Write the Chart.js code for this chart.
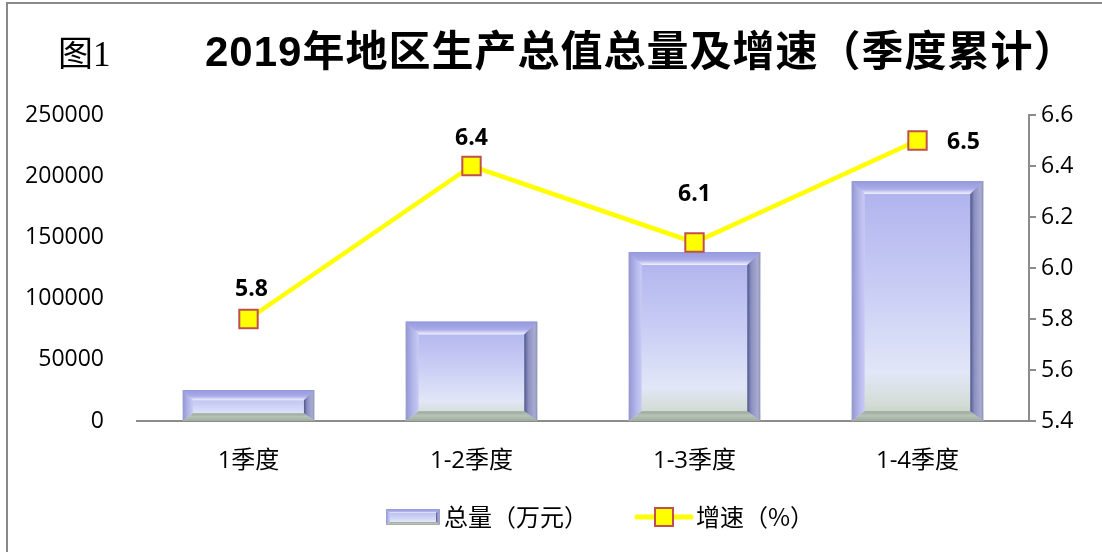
<!DOCTYPE html>
<html><head><meta charset="utf-8">
<script src="https://cdn.jsdelivr.net/npm/chart.js@4/dist/chart.umd.min.js"></script>
<style>
html,body{margin:0;padding:0;background:#fff;}
#wrap{position:relative;width:1102px;height:552px;overflow:hidden;background:#fff;}
#c{position:absolute;left:0;top:0;}
#fig{position:absolute;left:58px;top:28px;height:46px;line-height:46px;font-size:35px;color:#000;white-space:nowrap;font-family:"Liberation Serif","Noto Sans CJK SC",serif;}
#title{position:absolute;left:205px;top:27px;height:50px;line-height:50px;font-size:42px;font-weight:bold;letter-spacing:1px;color:#000;white-space:nowrap;font-family:"Liberation Sans","Noto Sans CJK SC",sans-serif;}
</style>
</head><body>
<div id="wrap">
<canvas id="c" width="1102" height="552"></canvas>
<div id="fig"><span style="font-family:'Noto Sans CJK SC'">图</span>1</div>
<div id="title">2019年地区生产总值总量及增速（季度累计）</div>
</div>
<script>
const categories = ['1季度', '1-2季度', '1-3季度', '1-4季度'];
const totalValues = [25300, 81200, 138000, 196000];
const growthValues = [5.8, 6.4, 6.1, 6.5];
const seriesNames = ['总量（万元）', '增速（%）'];
const leftAxisMin = 0, leftAxisMax = 250000, leftAxisStep = 50000;
const rightAxisMin = 5.4, rightAxisMax = 6.6, rightAxisStep = 0.2;

const NUM_FONT = '"Open Sans","Noto Sans CJK SC",sans-serif';
const CJK_FONT = '"Noto Sans CJK SC",sans-serif';

function poly(ctx, pts, fill) {
  ctx.beginPath();
  ctx.moveTo(pts[0][0], pts[0][1]);
  for (let i = 1; i < pts.length; i++) ctx.lineTo(pts[i][0], pts[i][1]);
  ctx.closePath();
  ctx.fillStyle = fill;
  ctx.fill();
}

function drawBevel(ctx, L, T, R, B, b) {
  const h = B - T;
  if (h <= 0) return;
  const bb = b * 0.75;
  ctx.save();
  let g = ctx.createLinearGradient(0, T, 0, B);
  g.addColorStop(0, '#aeb1ec');
  g.addColorStop(0.45, '#c9cdf5');
  g.addColorStop(0.8, '#e1e7f7');
  g.addColorStop(0.93, '#d3ddd6');
  g.addColorStop(1, '#bccabd');
  ctx.fillStyle = g;
  ctx.fillRect(L, T, R - L, h);
  // top face
  g = ctx.createLinearGradient(0, T, 0, T + b);
  g.addColorStop(0, '#9598dc');
  g.addColorStop(0.6, '#a9ace8');
  g.addColorStop(1, '#f2f3ff');
  poly(ctx, [[L, T], [R, T], [R - b, T + b], [L + b, T + b]], g);
  // left face
  g = ctx.createLinearGradient(L, 0, L + b, 0);
  g.addColorStop(0, '#9397cf');
  g.addColorStop(0.5, '#b0b3e8');
  g.addColorStop(1, '#c9ccf3');
  poly(ctx, [[L, T], [L + b, T + b], [L + b, B - bb], [L, B]], g);
  // right face
  g = ctx.createLinearGradient(R - b, 0, R, 0);
  g.addColorStop(0, '#4f5689');
  g.addColorStop(0.3, '#8a8fc0');
  g.addColorStop(0.8, '#a8acd2');
  g.addColorStop(1, '#8d91b3');
  poly(ctx, [[R, T], [R, B], [R - b, B - bb], [R - b, T + b]], g);
  // bottom face
  g = ctx.createLinearGradient(0, B - bb, 0, B);
  g.addColorStop(0, '#98a89a');
  g.addColorStop(0.45, '#b7c3b8');
  g.addColorStop(1, '#9eab9f');
  poly(ctx, [[L, B], [L + b, B - bb], [R - b, B - bb], [R, B]], g);
  ctx.restore();
}

const bevelPlugin = {
  id: 'bevelBars',
  afterDatasetDraw(chart, args) {
    if (args.index !== 0) return;
    const ctx = chart.ctx;
    args.meta.data.forEach(el => {
      const p = el.getProps(['x', 'y', 'base', 'width'], true);
      const h = p.base - p.y;
      const b = Math.min(13, h / 3);
      drawBevel(ctx, p.x - p.width / 2, p.y, p.x + p.width / 2, p.base, b);
    });
  }
};

const labelOffsets = [[3, -30], [0, -28], [0, -48], [46, 2]];
const valueLabelPlugin = {
  id: 'valueLabels',
  afterDatasetsDraw(chart) {
    const ctx = chart.ctx;
    const meta = chart.getDatasetMeta(1);
    ctx.save();
    ctx.font = 'bold 23px ' + NUM_FONT;
    ctx.fillStyle = '#000';
    ctx.textAlign = 'center';
    ctx.textBaseline = 'middle';
    meta.data.forEach((pt, i) => {
      const o = labelOffsets[i];
      ctx.fillText(chart.data.datasets[1].data[i].toFixed(1), pt.x + o[0], pt.y + o[1]);
    });
    ctx.restore();
  }
};

const framePlugin = {
  id: 'frame',
  beforeDraw(chart) {
    const ctx = chart.ctx;
    ctx.save();
    ctx.fillStyle = '#fff';
    ctx.fillRect(0, 0, chart.width, chart.height);
    ctx.strokeStyle = '#8a8a8a';
    ctx.lineWidth = 2;
    ctx.beginPath();
    ctx.moveTo(7, 552);
    ctx.lineTo(7, 3);
    ctx.lineTo(1102, 3);
    ctx.stroke();
    ctx.restore();
  }
};

const legendPlugin = {
  id: 'customLegend',
  afterDraw(chart) {
    const ctx = chart.ctx;
    const cy = 517;
    ctx.save();
    drawBevel(ctx, 386, 509, 440, 525, 4);
    ctx.font = '24px ' + CJK_FONT;
    ctx.fillStyle = '#000';
    ctx.textAlign = 'left';
    ctx.textBaseline = 'middle';
    ctx.fillText(chart.data.datasets[0].label, 444, cy);
    ctx.strokeStyle = '#ffff00';
    ctx.lineWidth = 5;
    ctx.lineCap = 'round';
    ctx.beginPath();
    ctx.moveTo(637, cy);
    ctx.lineTo(691, cy);
    ctx.stroke();
    ctx.fillStyle = '#ffff00';
    ctx.fillRect(655, cy - 9, 18, 18);
    ctx.strokeStyle = '#c0504d';
    ctx.lineWidth = 2;
    ctx.strokeRect(655, cy - 9, 18, 18);
    ctx.fillStyle = '#000';
    ctx.fillText(chart.data.datasets[1].label, 696, cy);
    ctx.restore();
  }
};

new Chart(document.getElementById('c'), {
  data: {
    labels: categories,
    datasets: [
      {
        type: 'bar',
        label: seriesNames[0],
        data: totalValues,
        yAxisID: 'y',
        backgroundColor: 'rgba(0,0,0,0)',
        borderWidth: 0,
        barPercentage: 0.59,
        categoryPercentage: 1,
        order: 1
      },
      {
        type: 'line',
        label: seriesNames[1],
        data: growthValues,
        yAxisID: 'y1',
        borderColor: '#ffff00',
        borderWidth: 4.5,
        tension: 0,
        pointStyle: 'rect',
        pointRadius: 13,
        pointHoverRadius: 13,
        pointBackgroundColor: '#ffff00',
        pointBorderColor: '#c0504d',
        pointBorderWidth: 2,
        order: 0
      }
    ]
  },
  options: {
    responsive: false,
    animation: false,
    events: [],
    layout: { padding: { top: 115, bottom: 71, left: 0, right: 0 } },
    plugins: { legend: { display: false }, title: { display: false }, tooltip: { enabled: false } },
    scales: {
      x: {
        grid: { display: false, drawTicks: false },
        border: { display: true, color: '#8c8c8c', width: 2 },
        ticks: { padding: 26, color: '#000', font: { size: 24, family: NUM_FONT } },
        afterFit(s) { s.height = 60; }
      },
      y: {
        position: 'left',
        min: leftAxisMin, max: leftAxisMax,
        grid: { display: false, drawTicks: false },
        border: { display: false },
        ticks: { stepSize: leftAxisStep, padding: 33, color: '#000', font: { size: 23, family: NUM_FONT },
                 callback: v => String(v) },
        afterFit(s) { s.width = 137; }
      },
      y1: {
        position: 'right',
        min: rightAxisMin, max: rightAxisMax,
        grid: { drawOnChartArea: false, color: '#8c8c8c', lineWidth: 2, tickLength: 7 },
        border: { display: true, color: '#8c8c8c', width: 2 },
        ticks: { stepSize: rightAxisStep, padding: 5, color: '#000', font: { size: 23, family: NUM_FONT },
                 callback: v => Number(v).toFixed(1) },
        afterFit(s) { s.width = 73; }
      }
    }
  },
  plugins: [framePlugin, bevelPlugin, valueLabelPlugin, legendPlugin]
});
</script>
</body></html>
